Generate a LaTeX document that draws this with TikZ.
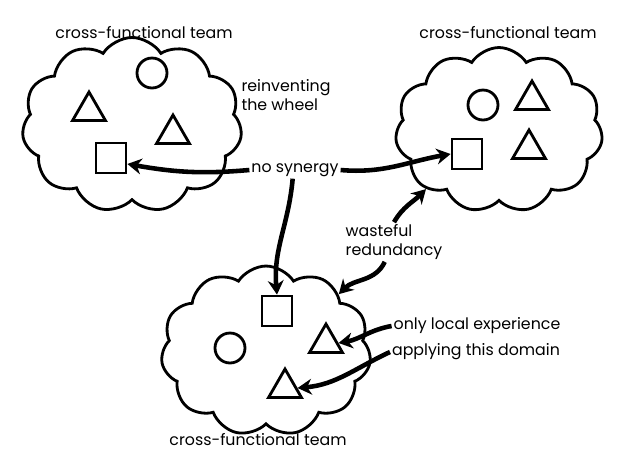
\documentclass[tikz,border=0pt]{standalone}
\usepackage{fontspec}
\setmainfont{Poppins}
\usepackage{tikz}
\usetikzlibrary{shapes,arrows.meta,positioning,calc}

\begin{document}
\begin{tikzpicture}[x=0.02cm, y=-0.02cm,
  team/.style={cloud, draw, line width=1.6pt, cloud puffs=11, cloud puff arc=115, cloud ignores aspect, inner sep=0pt},
  tri/.style={regular polygon, regular polygon sides=3, draw, line width=1.6pt, minimum size=0.76cm, inner sep=0pt},
  sq/.style={rectangle, draw, line width=1.6pt, minimum size=0.6cm, inner sep=0pt},
  dot/.style={circle, draw, line width=1.6pt, minimum size=0.6cm, inner sep=0pt},
  lbl/.style={font=\small, align=left, inner sep=1pt},
  arrow/.style={-{Stealth[length=8pt,width=9pt]}, line width=2.6pt}]

  \useasboundingbox (0,0) rectangle (630,458);

  % Team clouds
  \node[team, minimum width=4.4cm, minimum height=3.5cm] (cl1) at (132,125) {};
  \node[team, minimum width=4.15cm, minimum height=3.3cm] (cl2) at (499,130) {};
  \node[team, minimum width=4.2cm, minimum height=3.4cm] (cl3) at (266,351) {};

  \node[lbl] (t1) at (144,33) {cross-functional team};
  \node[lbl] (t2) at (508,33) {cross-functional team};
  \node[lbl] (t3) at (258,440) {cross-functional team};

  % Members of the first team
  \node[dot] (dot1) at (152,73) {};
  \node[tri] (tri1) at (89,111) {};
  \node[tri] (tri2) at (173,134) {};
  \node[sq] (sq1) at (111,158) {};

  % Members of the second team
  \node[dot] (dot2) at (483,105) {};
  \node[tri] (tri3) at (532,100) {};
  \node[tri] (tri4) at (529,149) {};
  \node[sq] (sq2) at (467,154) {};

  % Members of the third team
  \node[sq] (sq3) at (277,311) {};
  \node[tri] (tri5) at (326,343) {};
  \node[dot] (dot3) at (230,348) {};
  \node[tri] (tri6) at (285,388) {};

  % Labels
  \node[lbl] (wheel) at (286,95) {reinventing\\the wheel};
  \node[lbl] (syn) at (295,170) {no synergy};
  \node[lbl] (waste) at (394,242) {wasteful\\redundancy};
  \node[lbl] (local) at (477,326) {only local experience};
  \node[lbl] (apply) at (476,352) {applying this domain};

  % Arrows
  \draw[arrow] (syn.west) to[out=185, in=-10] (sq1.-20);
  \draw[arrow] (syn.east) to[out=-5, in=190] (sq2.west);
  \draw[arrow] (syn.-105) to[out=-95, in=95] (sq3.north);
  \draw[arrow] (waste.north) to[out=60, in=225] (cl2.219);
  \draw[arrow] (waste.-115) to[out=-115, in=45] (cl3.38);
  \draw[arrow] (local.west) to[out=190, in=10] (tri5.east);
  \draw[arrow] (apply.west) to[out=205, in=5] (tri6.east);

\end{tikzpicture}
\end{document}
